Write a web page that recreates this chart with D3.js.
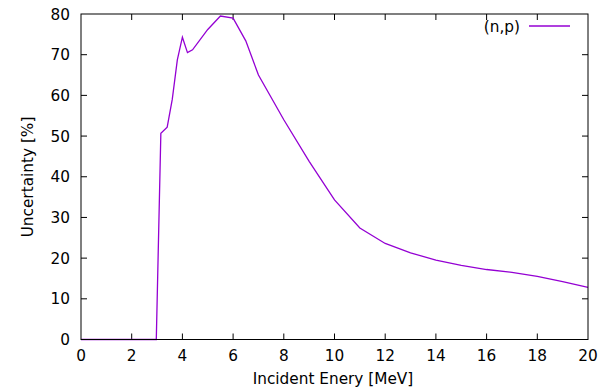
<!DOCTYPE html>
<html><head><meta charset="utf-8">
<script src="https://cdn.jsdelivr.net/npm/d3@7"></script>
<style>body{margin:0;background:#fff}svg{display:block}text{font-family:"DejaVu Sans",sans-serif;font-size:15.3px;fill:#000}</style>
</head><body>
<script>
const energy = [0, 1, 2, 2.97, 3.15, 3.4, 3.6, 3.8, 4.0, 4.2, 4.4, 5.0, 5.5, 6.0, 6.5, 7, 8, 9, 10, 11, 12, 13, 14, 15, 16, 17, 18, 19, 20];
const uncertainty = [0, 0, 0, 0, 50.7, 52.2, 59, 68.7, 74.3, 70.5, 71.2, 76.2, 79.5, 79, 73.4, 65, 54, 43.8, 34.3, 27.4, 23.6, 21.3, 19.5, 18.2, 17.2, 16.5, 15.5, 14.2, 12.8];
const xTicks = [0, 2, 4, 6, 8, 10, 12, 14, 16, 18, 20];
const yTicks = [0, 10, 20, 30, 40, 50, 60, 70, 80];
const seriesName = "(n,p)";
const xTitle = "Incident Enery [MeV]";
const yTitle = "Uncertainty [%]";

const W = 615, H = 389;
const L = 81, R = 588, T = 14, B = 339.5;
const svg = d3.select("body").append("svg").attr("width", W).attr("height", H);
const x = d3.scaleLinear().domain([0, 20]).range([L, R]);
const y = d3.scaleLinear().domain([0, 80]).range([B, T]);
const tl = 6;

const g = svg.append("g");
xTicks.forEach(t => {
  if (t > 0 && t < 20) {
    g.append("line").attr("x1", x(t)).attr("x2", x(t)).attr("y1", B).attr("y2", B - tl).attr("stroke", "#000");
    g.append("line").attr("x1", x(t)).attr("x2", x(t)).attr("y1", T).attr("y2", T + tl).attr("stroke", "#000");
  }
  g.append("text").attr("x", x(t)).attr("y", 360.5).attr("text-anchor", "middle").text(t);
});
yTicks.forEach(t => {
  if (t > 0 && t < 80) {
    g.append("line").attr("x1", L).attr("x2", L + tl).attr("y1", y(t)).attr("y2", y(t)).attr("stroke", "#000");
    g.append("line").attr("x1", R).attr("x2", R - tl).attr("y1", y(t)).attr("y2", y(t)).attr("stroke", "#000");
  }
  g.append("text").attr("x", 70).attr("y", y(t) + 5.5).attr("text-anchor", "end").text(t);
});

const line = d3.line().x((d, i) => x(energy[i])).y(d => y(d));
svg.append("path").datum(uncertainty).attr("d", line).attr("fill", "none").attr("stroke", "#9400d3").attr("stroke-width", 1.3);

svg.append("rect").attr("x", L).attr("y", T).attr("width", R - L).attr("height", B - T).attr("fill", "none").attr("stroke", "#000").attr("stroke-width", 1);

svg.append("text").attr("x", 333).attr("y", 384).attr("text-anchor", "middle").text(xTitle);
svg.append("text").attr("transform", `translate(33,177) rotate(-90)`).attr("text-anchor", "middle").text(yTitle);

svg.append("text").attr("x", 520).attr("y", 31.5).attr("text-anchor", "end").text(seriesName);
svg.append("line").attr("x1", 529).attr("x2", 570).attr("y1", 26).attr("y2", 26).attr("stroke", "#9400d3").attr("stroke-width", 1.3);
</script>
</body></html>
